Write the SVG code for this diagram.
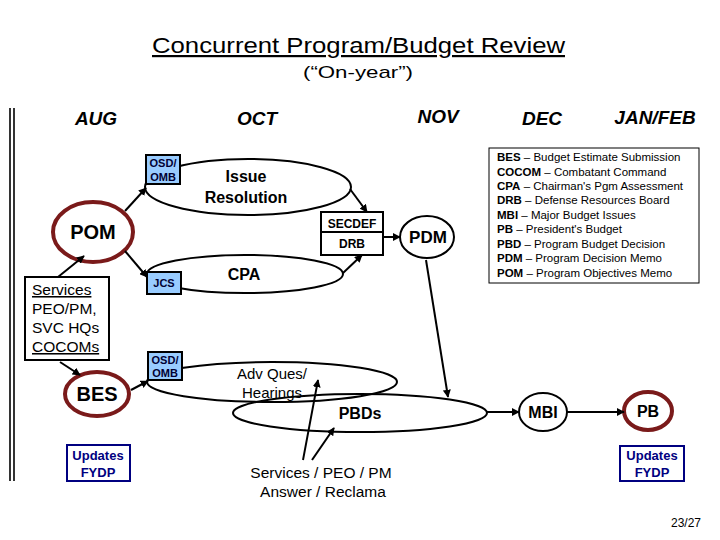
<svg xmlns="http://www.w3.org/2000/svg" width="720" height="540" viewBox="0 0 720 540">
<defs>
<style>
text{font-family:"Liberation Sans",Arial,sans-serif;fill:#000}
.b{font-weight:bold}
.mon{font-weight:bold;font-style:italic;font-size:19px;text-anchor:middle}
.c{text-anchor:middle}
.blue{fill:#99ccff;stroke:#000;stroke-width:2}
.box{fill:#fff;stroke:#000;stroke-width:2}
.ell{fill:none;stroke:#000;stroke-width:2}
.red{fill:#fff;stroke:#7a1a1a;stroke-width:4}
.upd{fill:#fff;stroke:#000080;stroke-width:2}
.updt{fill:#000080;font-weight:bold;font-size:13px;text-anchor:middle}
.sm{font-weight:bold;font-size:11px;text-anchor:middle;fill:#000033}
.leg{font-size:11.5px}
.conn line{stroke:#000;stroke-width:2;marker-end:url(#ah)}
</style>
<marker id="ah" viewBox="0 0 10 10" refX="9" refY="5" markerWidth="4" markerHeight="4" orient="auto" markerUnits="strokeWidth">
<path d="M0,0 L10,5 L0,10 z" fill="#000"/>
</marker>
</defs>
<rect width="720" height="540" fill="#fff"/>

<g id="title">
<text x="152" y="53" font-size="22" text-decoration="underline" textLength="413" lengthAdjust="spacingAndGlyphs">Concurrent Program/Budget Review</text>
<text x="303" y="78" font-size="17" textLength="110" lengthAdjust="spacingAndGlyphs">(“On-year”)</text>
</g>

<g id="months">
<text x="96" y="125" class="mon">AUG</text>
<text x="257" y="125" class="mon">OCT</text>
<text x="438" y="123" class="mon">NOV</text>
<text x="542" y="125" class="mon">DEC</text>
<text x="655" y="124" class="mon">JAN/FEB</text>
</g>

<g id="leftbar" stroke="#000" stroke-width="1.6">
<line x1="10" y1="108" x2="10" y2="481"/>
<line x1="14" y1="108" x2="14" y2="481"/>
</g>

<g id="issue-resolution">
<ellipse cx="248" cy="187" rx="103" ry="28" class="ell"/>
<text x="246" y="182" class="c b" font-size="16">Issue</text>
<text x="246" y="203" class="c b" font-size="16">Resolution</text>
</g>
<g id="osd-omb-top">
<rect x="146" y="155" width="34" height="29" class="blue"/>
<text x="163" y="167" class="sm">OSD/</text>
<text x="163" y="181" class="sm">OMB</text>
</g>

<g id="cpa">
<ellipse cx="245" cy="274" rx="98" ry="19" class="ell"/>
<text x="244" y="280" class="c b" font-size="16">CPA</text>
</g>
<g id="jcs">
<rect x="147" y="272" width="34" height="22" class="blue"/>
<text x="164" y="287" class="sm">JCS</text>
</g>

<g id="pom">
<ellipse cx="93" cy="232" rx="40" ry="30" class="red"/>
<text x="93" y="239" class="c b" font-size="20">POM</text>
</g>

<g id="secdef-drb">
<rect x="321" y="212" width="62" height="43" class="box"/>
<line x1="321" y1="232" x2="383" y2="232" stroke="#000" stroke-width="2"/>
<text x="352" y="228" class="c b" font-size="12">SECDEF</text>
<text x="352" y="248" class="c b" font-size="12">DRB</text>
</g>

<g id="pdm">
<ellipse cx="427" cy="237" rx="27" ry="21" class="ell"/>
<text x="428" y="243" class="c b" font-size="17">PDM</text>
</g>

<g id="legend">
<rect x="489" y="148" width="210" height="135" fill="#fff" stroke="#000" stroke-width="1"/>
<text x="497" y="161" class="leg"><tspan class="b">BES</tspan> – Budget Estimate Submission</text>
<text x="497" y="176" class="leg"><tspan class="b">COCOM</tspan> – Combatant Command</text>
<text x="497" y="190" class="leg"><tspan class="b">CPA</tspan> – Chairman's Pgm Assessment</text>
<text x="497" y="204" class="leg"><tspan class="b">DRB</tspan> – Defense Resources Board</text>
<text x="497" y="219" class="leg"><tspan class="b">MBI</tspan> – Major Budget Issues</text>
<text x="497" y="233" class="leg"><tspan class="b">PB</tspan> – President's Budget</text>
<text x="497" y="248" class="leg"><tspan class="b">PBD</tspan> – Program Budget Decision</text>
<text x="497" y="262" class="leg"><tspan class="b">PDM</tspan> – Program Decision Memo</text>
<text x="497" y="277" class="leg"><tspan class="b">POM</tspan> – Program Objectives Memo</text>
</g>

<g id="services">
<rect x="25" y="277" width="84" height="83" class="box"/>
<text x="32" y="295" font-size="15.5" text-decoration="underline">Services</text>
<text x="32" y="314" font-size="15.5">PEO/PM,</text>
<text x="32" y="333" font-size="15.5">SVC HQs</text>
<text x="32" y="352" font-size="15.5" text-decoration="underline">COCOMs</text>
</g>

<g id="bes">
<ellipse cx="97" cy="394" rx="32" ry="22" class="red"/>
<text x="97" y="401" class="c b" font-size="20">BES</text>
</g>

<g id="adv-ques">
<ellipse cx="272" cy="382" rx="125" ry="20" class="ell"/>
<text x="272" y="379" class="c" font-size="15">Adv Ques/</text>
<text x="272" y="398" class="c" font-size="15">Hearings</text>
</g>
<g id="osd-omb-bottom">
<rect x="148" y="352" width="34" height="28" class="blue"/>
<text x="165" y="364" class="sm">OSD/</text>
<text x="165" y="377" class="sm">OMB</text>
</g>

<g id="pbds">
<ellipse cx="360" cy="413" rx="127" ry="19" class="ell"/>
<text x="360" y="419" class="c b" font-size="16">PBDs</text>
</g>

<g id="mbi">
<ellipse cx="543" cy="412" rx="24" ry="19" class="ell"/>
<text x="543" y="418" class="c b" font-size="16">MBI</text>
</g>

<g id="pb">
<ellipse cx="648" cy="411" rx="24" ry="19" class="red"/>
<text x="648" y="417" class="c b" font-size="16">PB</text>
</g>

<g id="updates-left">
<rect x="67" y="445" width="63" height="36" class="upd"/>
<text x="98" y="460" class="updt">Updates</text>
<text x="98" y="477" class="updt">FYDP</text>
</g>
<g id="updates-right">
<rect x="620" y="446" width="64" height="35" class="upd"/>
<text x="652" y="460" class="updt">Updates</text>
<text x="652" y="477" class="updt">FYDP</text>
</g>

<g id="services-answer">
<text x="321" y="478" class="c" font-size="15.5">Services / PEO / PM</text>
<text x="323" y="497" class="c" font-size="15.5">Answer / Reclama</text>
</g>

<g id="connectors" class="conn">
<line x1="58" y1="277" x2="84" y2="256"/>
<line x1="125" y1="211" x2="146" y2="188"/>
<line x1="125" y1="251" x2="147" y2="277"/>
<line x1="350" y1="189" x2="367" y2="212"/>
<line x1="343" y1="273" x2="362" y2="255"/>
<line x1="383" y1="237" x2="400" y2="237"/>
<line x1="426" y1="260" x2="448" y2="397"/>
<line x1="60" y1="362" x2="80" y2="375"/>
<line x1="131" y1="390" x2="148" y2="381"/>
<line x1="303" y1="460" x2="318" y2="380"/>
<line x1="312" y1="460" x2="334" y2="428"/>
<line x1="487" y1="412" x2="519" y2="412"/>
<line x1="567" y1="412" x2="624" y2="412"/>
</g>

<text x="701" y="527" font-size="12" text-anchor="end">23/27</text>
</svg>
